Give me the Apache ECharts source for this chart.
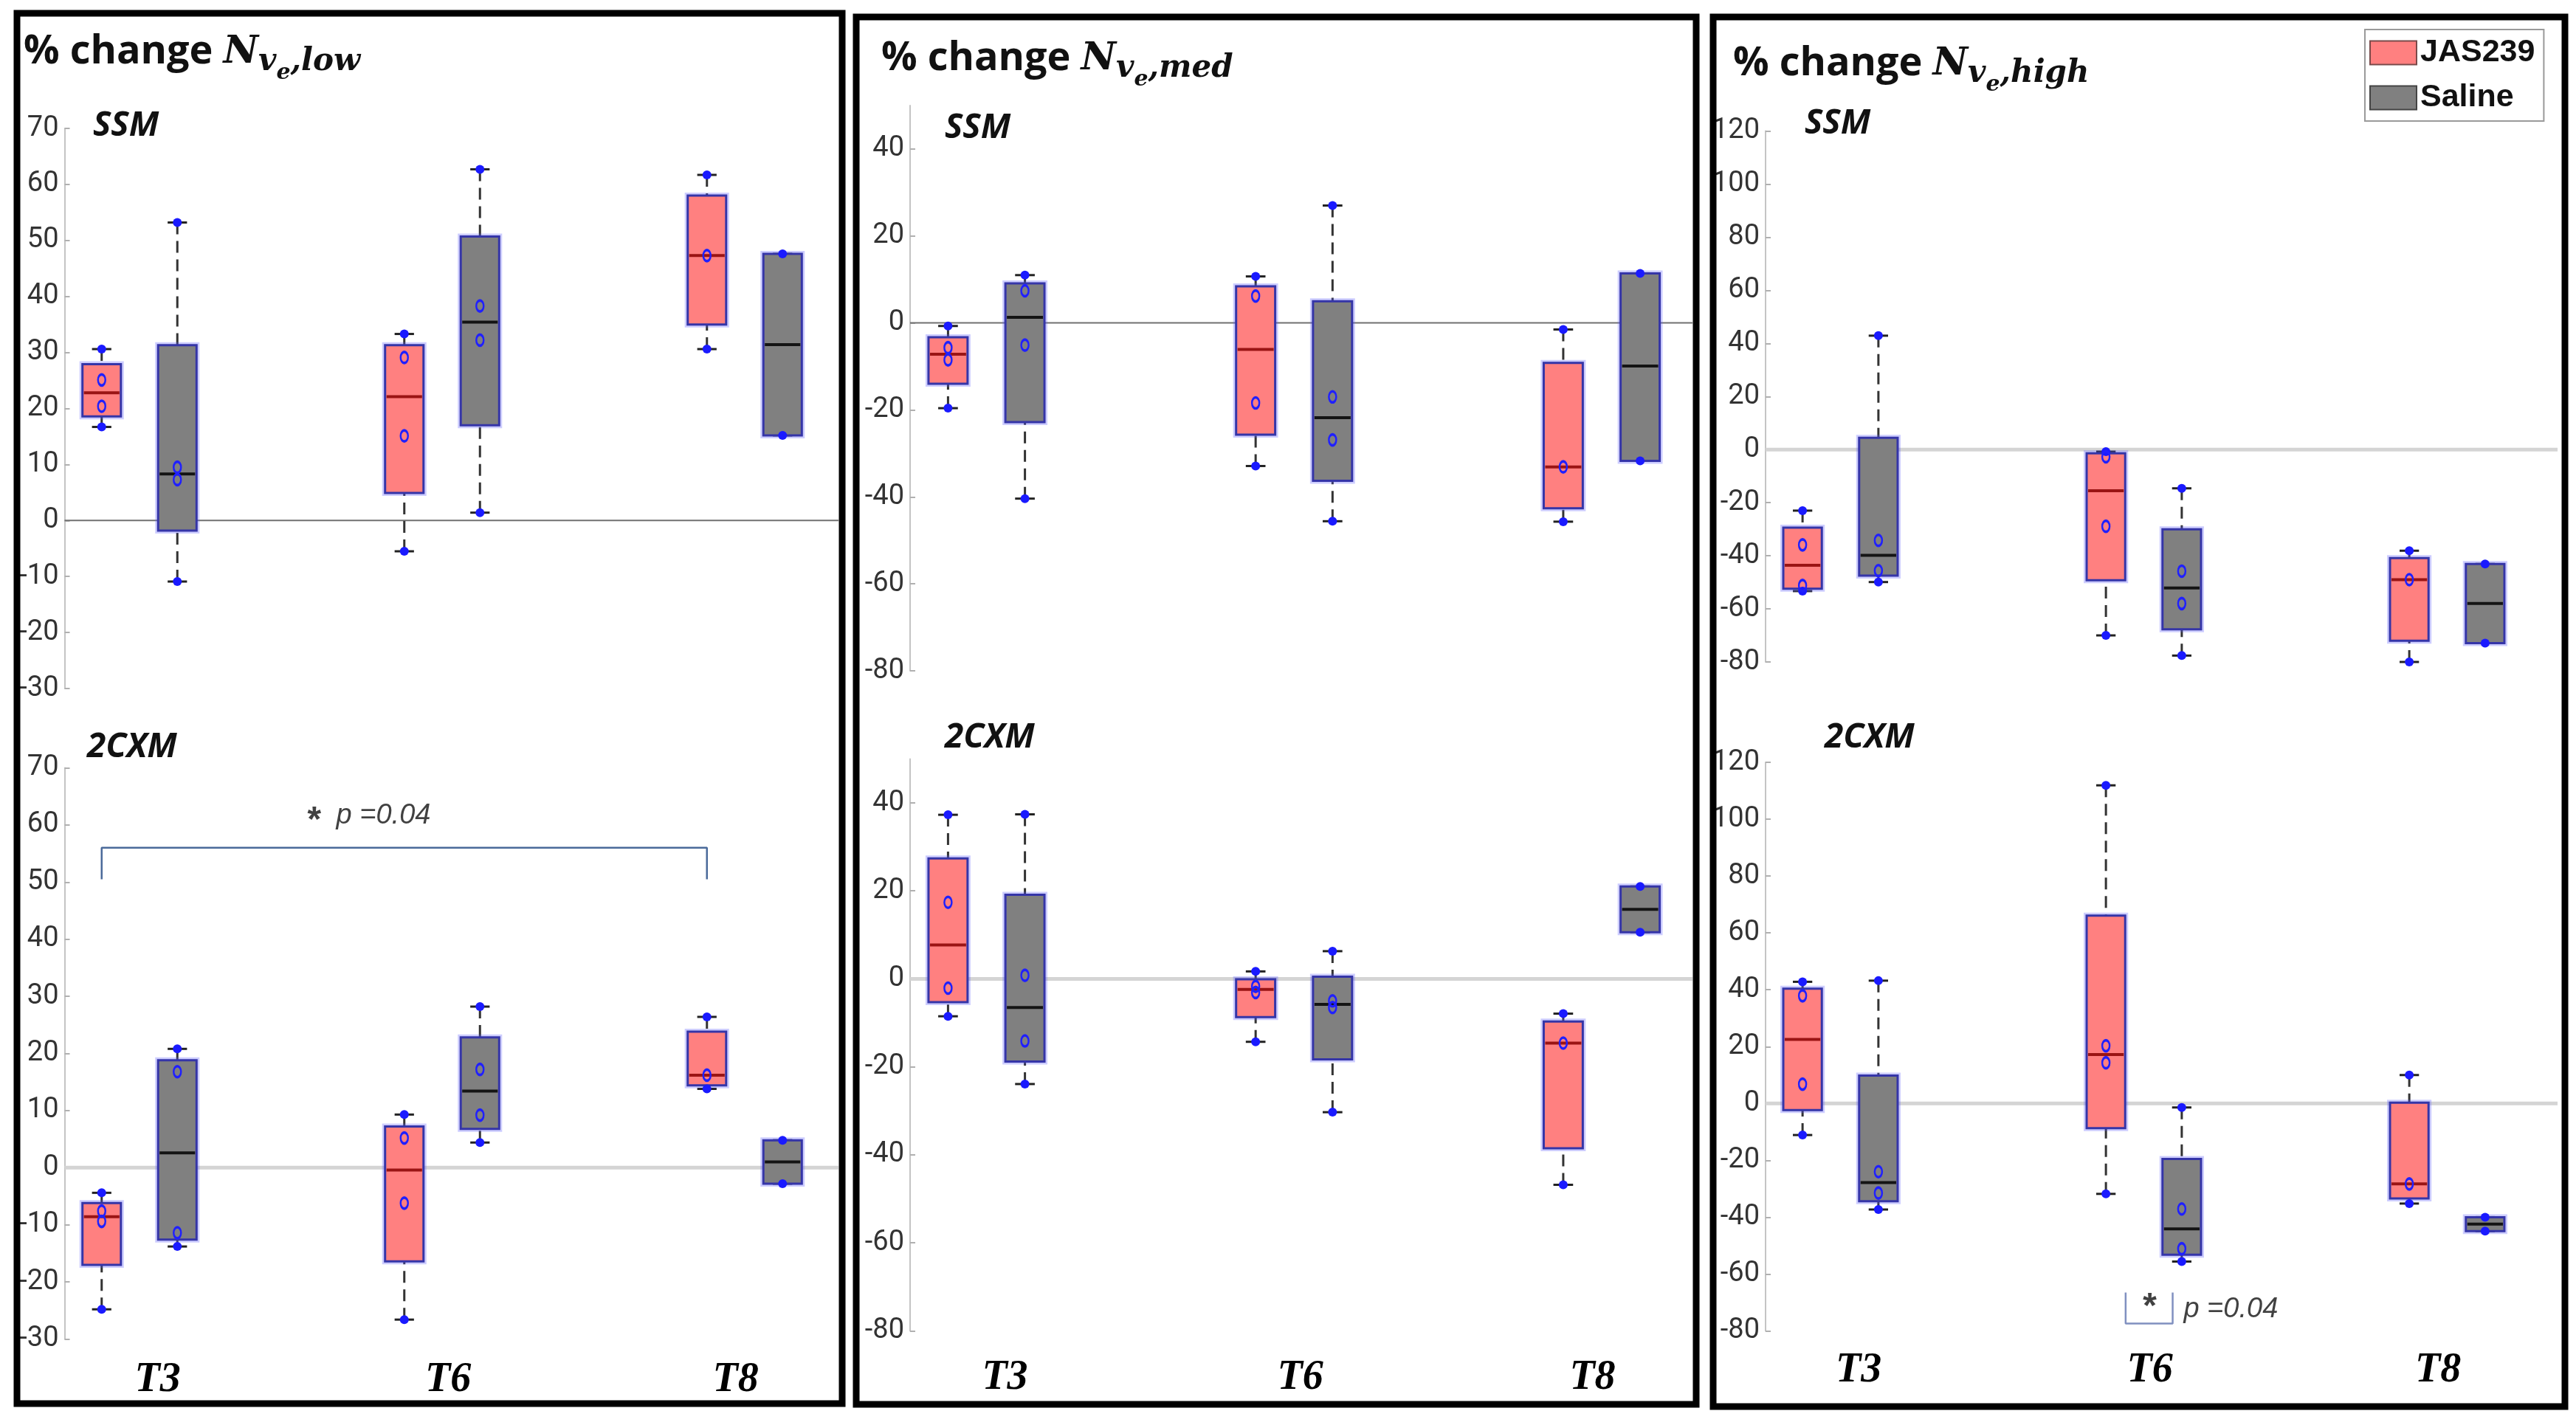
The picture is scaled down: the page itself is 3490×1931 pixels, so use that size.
<!DOCTYPE html>
<html>
<head>
<meta charset="utf-8">
<script src="https://cdn.jsdelivr.net/npm/echarts@6/dist/echarts.min.js"></script>
<style>html,body{margin:0;padding:0;background:#fff;}#c{width:3490px;height:1931px;}</style>
</head>
<body>
<div id="c"></div>
<script>
// ---------------- DATA ----------------
const categories = ['T3', 'T6', 'T8'];
const groupNames = ['JAS239', 'Saline'];
const panelTitles = ['low', 'med', 'high'];
const rowNames = ['SSM', '2CXM'];

// box stats per time point: [min, q1, median, q3, max]
const lowSSM_JAS = [[16.7, 18.6, 22.8, 27.9, 30.6], [-5.5, 4.9, 22.1, 31.3, 33.3], [30.6, 35.0, 47.3, 58.0, 61.7]];
const lowSSM_SAL = [[-10.9, -1.8, 8.3, 31.3, 53.2], [1.4, 17.0, 35.4, 50.7, 62.7], [15.2, 15.2, 31.4, 47.6, 47.6]];
const lowCXM_JAS = [[-24.8, -17.0, -8.6, -6.2, -4.4], [-26.6, -16.4, -0.4, 7.2, 9.3], [13.8, 14.4, 16.2, 23.8, 26.4]];
const lowCXM_SAL = [[-13.8, -12.6, 2.6, 18.8, 20.8], [4.4, 6.8, 13.4, 22.8, 28.2], [-2.8, -2.8, 1.0, 4.8, 4.8]];
const medSSM_JAS = [[-19.6, -14.0, -7.2, -3.3, -0.7], [-32.9, -25.7, -6.1, 8.4, 10.7], [-45.7, -42.6, -33.1, -9.2, -1.5]];
const medSSM_SAL = [[-40.4, -22.8, 1.3, 9.1, 11.0], [-45.6, -36.3, -21.8, 5.0, 27.0], [-31.7, -31.7, -9.9, 11.4, 11.4]];
const medCXM_JAS = [[-8.5, -5.3, 7.7, 27.4, 37.3], [-14.3, -8.7, -2.4, -0.1, 1.7], [-46.8, -38.5, -14.6, -9.7, -7.9]];
const medCXM_SAL = [[-23.9, -18.8, -6.5, 19.1, 37.4], [-30.3, -18.3, -5.8, 0.5, 6.3], [10.6, 10.6, 15.8, 21.0, 21.0]];
const highSSM_JAS = [[-53.3, -52.4, -43.6, -29.4, -23.0], [-70.0, -49.2, -15.5, -1.4, -0.8], [-80.0, -72.0, -49.0, -40.9, -38.1]];
const highSSM_SAL = [[-49.9, -47.5, -39.8, 4.4, 42.9], [-77.6, -67.7, -52.1, -30.0, -14.6], [-72.9, -72.9, -58.0, -43.1, -43.1]];
const highCXM_JAS = [[-11.1, -2.3, 22.5, 40.4, 42.8], [-31.8, -8.7, 17.2, 66.1, 111.9], [-35.2, -33.4, -28.3, 0.3, 10.0]];
const highCXM_SAL = [[-37.3, -34.4, -27.8, 9.8, 43.2], [-55.6, -53.2, -44.1, -19.5, -1.4], [-44.9, -44.9, -42.4, -40.0, -40.0]];

// individual data points per time point
const lowSSM_JAS_pts = [[16.7, 20.4, 25.1, 30.6], [-5.5, 15.1, 29.1, 33.3], [30.6, 47.3, 61.7]];
const lowSSM_SAL_pts = [[-10.9, 7.3, 9.5, 53.2], [1.4, 32.2, 38.3, 62.7], [15.2, 47.6]];
const lowCXM_JAS_pts = [[-24.8, -9.4, -7.6, -4.4], [-26.6, -6.2, 5.2, 9.3], [13.8, 16.2, 26.4]];
const lowCXM_SAL_pts = [[-13.8, -11.4, 16.8, 20.8], [4.4, 9.2, 17.2, 28.2], [-2.8, 4.8]];
const medSSM_JAS_pts = [[-19.6, -8.5, -5.7, -0.7], [-32.9, -18.4, 6.2, 10.7], [-45.7, -33.1, -1.5]];
const medSSM_SAL_pts = [[-40.4, -5.1, 7.4, 11.0], [-45.6, -26.9, -17.0, 27.0], [-31.7, 11.4]];
const medCXM_JAS_pts = [[-8.5, -2.1, 17.4, 37.3], [-14.3, -3.1, -1.7, 1.7], [-46.8, -14.6, -7.9]];
const medCXM_SAL_pts = [[-23.9, -14.1, 0.8, 37.4], [-30.3, -6.5, -5.0, 6.3], [10.6, 21.0]];
const highSSM_JAS_pts = [[-53.3, -51.2, -35.9, -23.0], [-70.0, -28.9, -2.7, -0.8], [-80.0, -49.0, -38.1]];
const highSSM_SAL_pts = [[-49.9, -45.6, -34.2, 42.9], [-77.6, -58.0, -45.8, -14.6], [-72.9, -43.1]];
const highCXM_JAS_pts = [[-11.1, 6.8, 37.9, 42.8], [-31.8, 14.3, 20.3, 111.9], [-35.2, -28.3, 10.0]];
const highCXM_SAL_pts = [[-37.3, -31.5, -24.0, 43.2], [-55.6, -51.1, -37.1, -1.4], [-44.9, -40.0]];

// y axis ranges / ticks per panel
const yMin = [-30, -80, -80];
const yMax = [70, 50, 120];
const yInterval = [10, 20, 20];
const yTicks = [
  [-30, -20, -10, 0, 10, 20, 30, 40, 50, 60, 70],
  [-80, -60, -40, -20, 0, 20, 40],
  [-80, -60, -40, -20, 0, 20, 40, 60, 80, 100, 120]
];
const pText = 'p =0.04';

// ---------------- LAYOUT / STYLE ----------------
const stats = [
  [[lowSSM_JAS, lowSSM_SAL], [lowCXM_JAS, lowCXM_SAL]],
  [[medSSM_JAS, medSSM_SAL], [medCXM_JAS, medCXM_SAL]],
  [[highSSM_JAS, highSSM_SAL], [highCXM_JAS, highCXM_SAL]]
];
const points = [
  [[lowSSM_JAS_pts, lowSSM_SAL_pts], [lowCXM_JAS_pts, lowCXM_SAL_pts]],
  [[medSSM_JAS_pts, medSSM_SAL_pts], [medCXM_JAS_pts, medCXM_SAL_pts]],
  [[highSSM_JAS_pts, highSSM_SAL_pts], [highCXM_JAS_pts, highCXM_SAL_pts]]
];
const gridLeft = [87.5, 1233, 2392];
const gridRight = [1136, 2293, 3465];
const gridTops = [[174, 1040.5], [143, 1028.4], [177.5, 1033]];
const gridHeights = [[759, 774], [766, 775], [719.5, 770.5]];
const groupCenterT3 = [189, 1336.5, 2493.5];
const groupSpacing = [410, 416.75, 411];
const catLabelMargin = [28, 36, 26];
const labelAt = [1.06, 2.02, 2.97];
const groupOffset = [-0.125, 0.125];
const fills = ['#ff8080', '#808080'];
const medColors = ['#9a1414', '#141414'];
const axisFont = "'Roboto', 'Liberation Sans', sans-serif";

// x-axis extents so that the groups sit where they are in the figure
const xMins = gridLeft.map((l, p) => 1 - (groupCenterT3[p] - l) / groupSpacing[p]);
const xMaxs = gridRight.map((r, p) => 1 + (r - groupCenterT3[p]) / groupSpacing[p]);

function renderBox(params, api) {
  const x = api.value(0);
  const mn = api.value(1), q1 = api.value(2), md = api.value(3), q3 = api.value(4), mx = api.value(5);
  const gi = api.value(6);
  const hw = 0.0635, cw = 0.032;
  const pMax = api.coord([x, mx]), pQ3 = api.coord([x, q3]), pQ1 = api.coord([x, q1]);
  const pMin = api.coord([x, mn]), pMed = api.coord([x, md]);
  const left = api.coord([x - hw, q3])[0], right = api.coord([x + hw, q3])[0];
  const cl = api.coord([x - cw, mx])[0], cr = api.coord([x + cw, mx])[0];
  const wStyle = { stroke: '#333', lineWidth: 3, lineDash: [16, 9] };
  const children = [];
  if (mx > q3) children.push({ type: 'line', shape: { x1: pMax[0], y1: pMax[1], x2: pQ3[0], y2: pQ3[1] }, style: wStyle });
  if (mn < q1) children.push({ type: 'line', shape: { x1: pMin[0], y1: pMin[1], x2: pQ1[0], y2: pQ1[1] }, style: wStyle });
  children.push({ type: 'line', shape: { x1: cl, y1: pMax[1], x2: cr, y2: pMax[1] }, style: { stroke: '#222', lineWidth: 3 } });
  children.push({ type: 'line', shape: { x1: cl, y1: pMin[1], x2: cr, y2: pMin[1] }, style: { stroke: '#222', lineWidth: 3 } });
  const rect = { x: left, y: pQ3[1], width: right - left, height: pQ1[1] - pQ3[1] };
  children.push({ type: 'rect', shape: rect, style: { fill: 'none', stroke: 'rgba(90,90,255,0.30)', lineWidth: 8 } });
  children.push({ type: 'rect', shape: rect, style: { fill: fills[gi], stroke: '#3535a8', lineWidth: 3 } });
  children.push({ type: 'line', shape: { x1: left + 2, y1: pMed[1], x2: right - 2, y2: pMed[1] }, style: { stroke: medColors[gi], lineWidth: 4 } });
  return { type: 'group', children: children };
}

const grids = [], xAxes = [], yAxes = [], series = [], titles = [];
for (let p = 0; p < 3; p++) {
  for (let r = 0; r < 2; r++) {
    const idx = p * 2 + r;
    grids.push({ left: gridLeft[p], width: gridRight[p] - gridLeft[p], top: gridTops[p][r], height: gridHeights[p][r] });
    xAxes.push({
      type: 'value', gridIndex: idx, min: xMins[p], max: xMaxs[p],
      axisLine: { show: false }, axisTick: { show: false }, splitLine: { show: false },
      axisLabel: r === 1 ? {
        show: true, customValues: labelAt, margin: catLabelMargin[p],
        formatter: v => categories[Math.round(v) - 1],
        fontFamily: "'Liberation Serif', 'DejaVu Serif', serif", fontStyle: 'italic', fontWeight: 'bold', fontSize: 56, color: '#000'
      } : { show: false }
    });
    yAxes.push({
      type: 'value', gridIndex: idx, min: yMin[p], max: yMax[p], interval: yInterval[p],
      axisLine: { show: true, lineStyle: { color: '#c4c4c4', width: 2 } },
      axisTick: { show: true, inside: true, length: 7, customValues: yTicks[p], lineStyle: { color: '#b0b0b0', width: 2 } },
      splitLine: { show: false },
      axisLabel: { customValues: yTicks[p], fontSize: 38, fontFamily: axisFont, color: '#333', margin: 8 }
    });
    // zero reference line
    const darkZero = (r === 0 && p < 2);
    series.push({
      type: 'line', xAxisIndex: idx, yAxisIndex: idx, silent: true, symbol: 'none', z: 1,
      data: [[xMins[p], 0], [xMaxs[p], 0]],
      lineStyle: { color: darkZero ? '#707070' : '#d4d4d4', width: darkZero ? 2 : 5 }
    });
    for (let g = 0; g < 2; g++) {
      const st = stats[p][r][g];
      series.push({
        type: 'custom', name: groupNames[g], xAxisIndex: idx, yAxisIndex: idx, z: 2,
        itemStyle: { color: fills[g] },
        renderItem: renderBox,
        encode: { x: 0, y: [1, 2, 3, 4, 5] },
        data: st.map((s, i) => [i + 1 + groupOffset[g], s[0], s[1], s[2], s[3], s[4], g])
      });
      const ends = [], inner = [];
      points[p][r][g].forEach((arr, i) => {
        arr.forEach(v => {
          const xv = i + 1 + groupOffset[g];
          if (v === st[i][0] || v === st[i][4]) ends.push([xv, v]); else inner.push([xv, v]);
        });
      });
      series.push({
        type: 'scatter', xAxisIndex: idx, yAxisIndex: idx, z: 4, silent: true,
        symbol: 'circle', symbolSize: 12, itemStyle: { color: '#1a1aff', opacity: 1 }, data: ends
      });
      series.push({
        type: 'scatter', xAxisIndex: idx, yAxisIndex: idx, z: 4, silent: true,
        symbol: 'circle', symbolSize: [10, 15],
        itemStyle: { color: 'rgba(0,0,0,0)', borderColor: '#2020ff', borderWidth: 3, opacity: 1 }, data: inner
      });
    }
    titles.push({
      text: rowNames[r], left: [126, 1280, 2445][p] + (r === 1 ? [-8, 0, 27][p] : 0),
      top: r === 0 ? [148, 151, 145][p] : [990, 977, 977][p], padding: 0,
      textStyle: { fontFamily: "'Open Sans', 'Noto Sans', sans-serif", fontStyle: 'italic', fontWeight: 'bold', fontSize: 46, lineHeight: 46, color: '#111' }
    });
  }
}

// significance annotations
series.push({
  type: 'line', xAxisIndex: 1, yAxisIndex: 1, silent: true, symbol: 'none', z: 3,
  data: [[0.875, 50.5], [0.875, 56], [2.875, 56], [2.875, 50.5]],
  lineStyle: { color: '#4a6a9a', width: 2.5 }
});
series.push({
  type: 'line', xAxisIndex: 5, yAxisIndex: 5, silent: true, symbol: 'none', z: 3,
  data: [[1.94, -66.5], [1.94, -77.4], [2.095, -77.4], [2.095, -66.5]],
  lineStyle: { color: '#8090c0', width: 2.5 }
});
const annoLabel = (txt, pos, size, weight) => ({
  show: true, formatter: txt, position: pos, distance: 0,
  fontFamily: "'Liberation Sans', 'DejaVu Sans', sans-serif", fontStyle: 'italic', fontWeight: weight || 'normal', fontSize: size, color: '#111'
});
series.push({ type: 'scatter', xAxisIndex: 1, yAxisIndex: 1, silent: true, symbolSize: 1, itemStyle: { color: 'rgba(0,0,0,0)' },
  data: [{ value: [1.573, 60.6], label: annoLabel('*', 'inside', 48, 'bold') }, { value: [1.649, 61.6], label: annoLabel(pText, 'right', 38) }] });
series.push({ type: 'scatter', xAxisIndex: 5, yAxisIndex: 5, silent: true, symbolSize: 1, itemStyle: { color: 'rgba(0,0,0,0)' },
  data: [{ value: [2.015, -71.8], label: annoLabel('*', 'inside', 48, 'bold') }, { value: [2.13, -72.5], label: annoLabel(pText, 'right', 38) }] });

// panel titles
const titleLeft = [32, 1194, 2348];
const titleTop = [28, 37, 44];
for (let p = 0; p < 3; p++) {
  titles.push({
    text: '{a|% change }{n|N}{s|v}{e|e}{s|,' + panelTitles[p] + '}',
    left: titleLeft[p], top: titleTop[p], padding: 0,
    textStyle: {
      rich: {
        a: { fontFamily: "'Open Sans', 'Noto Sans', sans-serif", fontWeight: 'bold', fontSize: 54, color: '#111', verticalAlign: 'middle' },
        n: { fontFamily: "'DejaVu Serif', 'Liberation Serif', serif", fontStyle: 'italic', fontSize: 52, color: '#111', verticalAlign: 'middle' },
        s: { fontFamily: "'DejaVu Serif', 'Liberation Serif', serif", fontStyle: 'italic', fontSize: 42, color: '#111', verticalAlign: 'middle', padding: [26, 0, 0, 0] },
        e: { fontFamily: "'DejaVu Serif', 'Liberation Serif', serif", fontStyle: 'italic', fontSize: 30, color: '#111', verticalAlign: 'middle', padding: [56, 0, 0, 0] }
      }
    }
  });
}

const chart = echarts.init(document.getElementById('c'), null, { renderer: 'canvas' });
chart.setOption({
  backgroundColor: '#fff',
  animation: false,
  title: titles,
  grid: grids,
  xAxis: xAxes,
  yAxis: yAxes,
  legend: {
    left: 3204, top: 40, orient: 'vertical', padding: [10, 12, 10, 6], itemGap: 18,
    itemWidth: 63, itemHeight: 32, borderColor: '#9a9a9a', borderWidth: 2, backgroundColor: '#fff',
    selectedMode: false,
    textStyle: { fontFamily: "'Liberation Sans', 'Arial', sans-serif", fontWeight: 'bold', fontSize: 43, color: '#111' },
    data: [
      { name: 'JAS239', icon: 'rect', itemStyle: { color: '#ff8080', borderColor: '#7a4a4a', borderWidth: 2 } },
      { name: 'Saline', icon: 'rect', itemStyle: { color: '#808080', borderColor: '#444', borderWidth: 2 } }
    ]
  },
  graphic: [
    { type: 'rect', shape: { x: 23, y: 18, width: 1118, height: 1884 }, style: { fill: 'none', stroke: '#000', lineWidth: 9 }, z: 100 },
    { type: 'rect', shape: { x: 1160, y: 23, width: 1138, height: 1880 }, style: { fill: 'none', stroke: '#000', lineWidth: 9 }, z: 100 },
    { type: 'rect', shape: { x: 2321, y: 23, width: 1154, height: 1883 }, style: { fill: 'none', stroke: '#000', lineWidth: 9 }, z: 100 }
  ],
  series: series
});
</script>
</body>
</html>
